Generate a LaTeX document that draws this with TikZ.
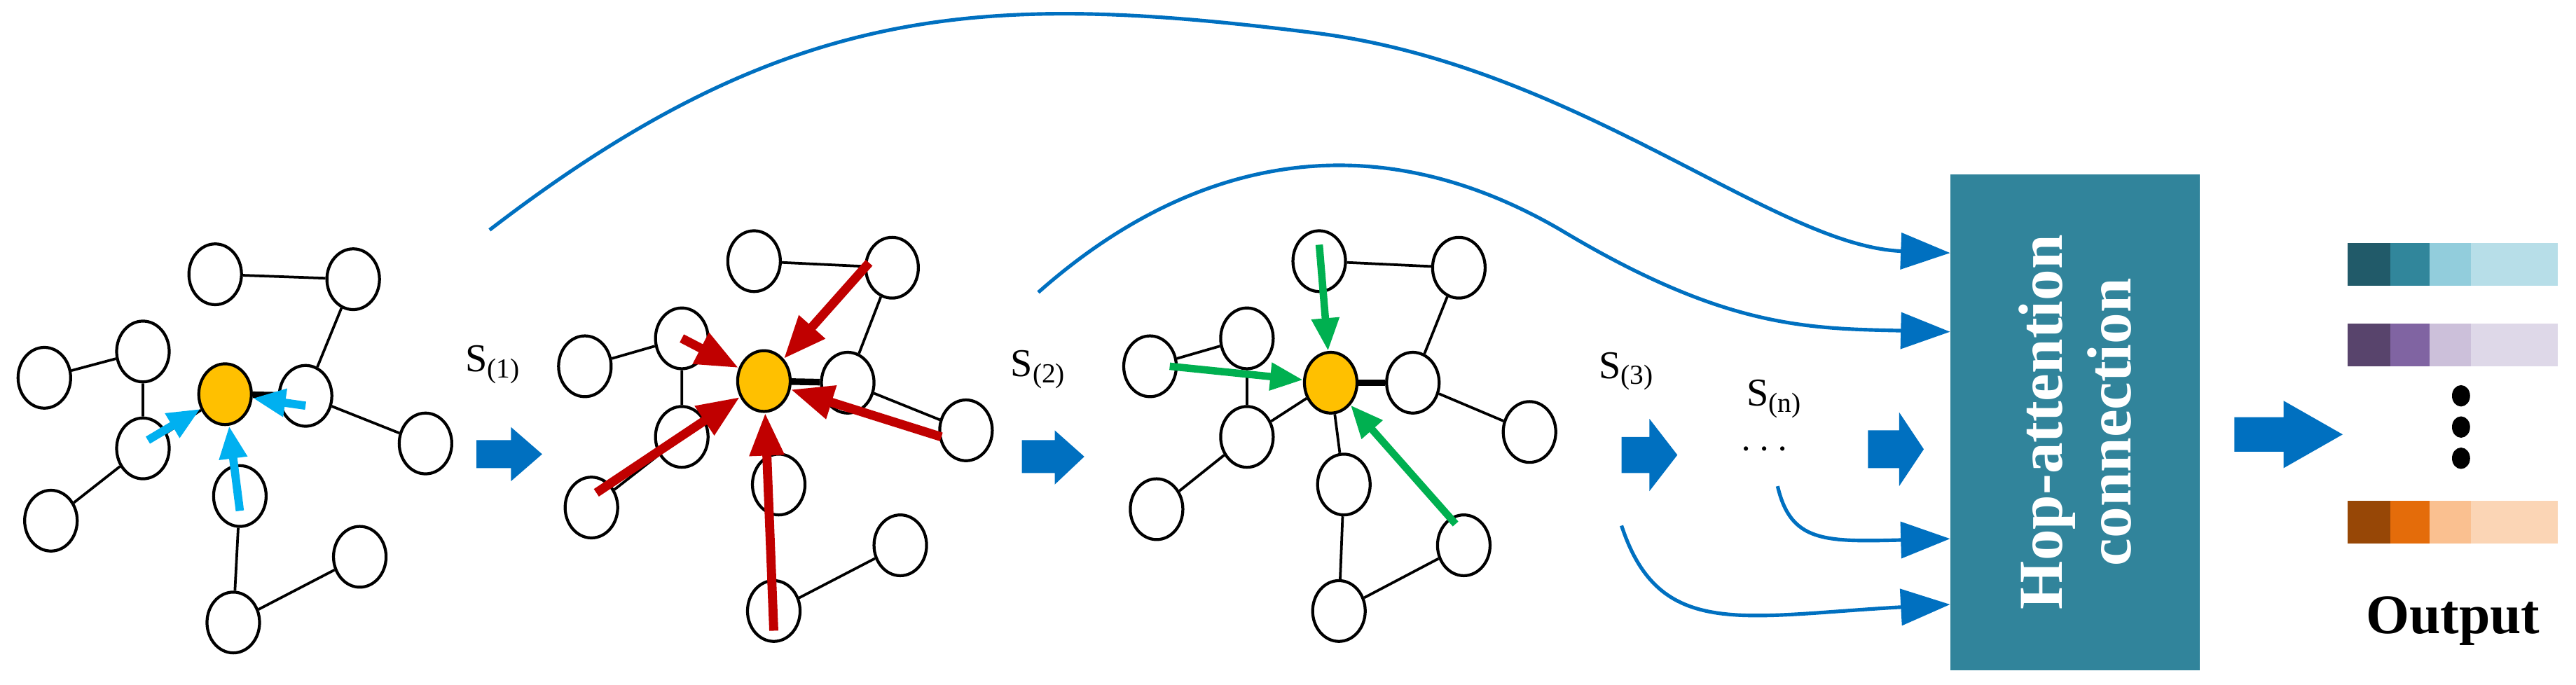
\documentclass[tikz,border=0pt]{standalone}
\usepackage{fontspec}
\setmainfont{Liberation Serif}
\usetikzlibrary{arrows.meta,shapes.geometric}
\definecolor{myblue}{HTML}{0070C0}
\definecolor{cyanA}{HTML}{00B0F0}
\definecolor{redA}{HTML}{C00000}
\definecolor{greenA}{HTML}{00B050}
\definecolor{gold}{HTML}{FFC000}
\definecolor{boxc}{HTML}{31849B}
\definecolor{t1}{HTML}{215A69}\definecolor{t2}{HTML}{31869B}\definecolor{t3}{HTML}{92CDDC}\definecolor{t4}{HTML}{B7DEE8}
\definecolor{v1}{HTML}{58446C}\definecolor{v2}{HTML}{8064A2}\definecolor{v3}{HTML}{CCC0DA}\definecolor{v4}{HTML}{DED8E8}
\definecolor{o1}{HTML}{974706}\definecolor{o2}{HTML}{E46C0A}\definecolor{o3}{HTML}{FAC090}\definecolor{o4}{HTML}{FBD5B5}
\tikzset{
 nd/.style={ellipse,draw=black,fill=white,line width=1.8pt,minimum width=32pt,minimum height=37pt,inner sep=0pt},
 ctr/.style={nd,fill=gold},
 ed/.style={line width=1.6pt},
 cyarr/.style={cyanA,line width=5pt,-{Triangle[length=20pt,width=16pt]}},
 rdarr/.style={redA,line width=5.5pt,-{Triangle[length=26pt,width=20pt]}},
 grarr/.style={greenA,line width=4.5pt,-{Triangle[length=20pt,width=16pt]}},
 curv/.style={myblue,line width=2.2pt,-{Triangle[length=30pt,width=22pt]}},
 blk/.style={fill=myblue,draw=none},
 slab/.style={font=\fontsize{24}{26}\selectfont},
}
\begin{document}
\begin{tikzpicture}[x=1pt,y=-1pt]
\useasboundingbox (0,0) rectangle (1568,417);
% graph 1
\node[nd] (a1) at (131,167) {};
\node[nd] (a2) at (215,170) {};
\node[nd] (a3) at (87,214) {};
\node[nd] (a4) at (27,230) {};
\node[ctr] (ac) at (137,240) {};
\node[nd] (a5) at (186,241) {};
\node[nd] (a6) at (87,273) {};
\node[nd] (a7) at (259,270) {};
\node[nd] (a8) at (31,317) {};
\node[nd] (a9) at (146,302) {};
\node[nd] (a10) at (219,339) {};
\node[nd] (a11) at (142,379) {};
\begin{scope}[on background layer/.style={}]
\end{scope}
\draw[ed] (a1)--(a2) (a2)--(a5) (a3)--(a4) (a3)--(a6) (a6)--(a8) (a6)--(ac) (a5)--(a7) (a9)--(a11) (a11)--(a10);
\draw[line width=4pt] (ac)--(a5);
\draw[cyarr] (a6.center)++(3,-5) -- (ac);
\draw[cyarr] ([yshift=-9pt]a9.center) -- (ac);
\draw[cyarr] ([yshift=-6pt]a5.center) -- (ac);
% graph 2
\node[nd] (b1) at (459,159) {};
\node[nd] (b2) at (543,163) {};
\node[nd] (b3) at (415,206) {};
\node[nd] (b4) at (356,223) {};
\node[ctr] (bc) at (465,232) {};
\node[nd] (b5) at (516,233) {};
\node[nd] (b6) at (415,266) {};
\node[nd] (b7) at (588,262) {};
\node[nd] (b8) at (360,309) {};
\node[nd] (b9) at (474,295) {};
\node[nd] (b10) at (548,332) {};
\node[nd] (b11) at (471,372) {};
\draw[ed] (b1)--(b2) (b2)--(b5) (b3)--(b4) (b3)--(b6) (b6)--(b8) (b5)--(b7) (b11)--(b10);
\draw[line width=4pt] (bc)--(b5);
\draw[rdarr] ([shift={(-14,-3)}]b2.center) -- (bc);
\draw[rdarr] (b3.center) -- (bc);
\draw[rdarr] ([shift={(3,-9)}]b8.center) -- (bc);
\draw[rdarr] ([shift={(-15,4)}]b7.center) -- (bc);
\draw[rdarr] ([yshift=-12pt]b11.center) -- (bc);
% graph 3
\node[nd] (c1) at (803,159) {};
\node[nd] (c2) at (888,163) {};
\node[nd] (c3) at (759,206) {};
\node[nd] (c4) at (700,223) {};
\node[ctr] (cc) at (810,233) {};
\node[nd] (c5) at (860,233) {};
\node[nd] (c6) at (759,266) {};
\node[nd] (c7) at (931,263) {};
\node[nd] (c8) at (704,310) {};
\node[nd] (c9) at (818,295) {};
\node[nd] (c10) at (891,332) {};
\node[nd] (c11) at (815,372) {};
\draw[ed] (c1)--(c2) (c2)--(c5) (c3)--(c4) (c3)--(c6) (c6)--(c8) (c6)--(cc) (cc)--(c9) (c5)--(c7) (c9)--(c11) (c11)--(c10);
\draw[line width=4pt] (cc)--(c5);
\draw[grarr] ([yshift=10pt]c1.center) -- (cc);
\draw[grarr] ([xshift=12pt]c4.center) -- (cc);
\draw[grarr] ([shift={(-5,-13)}]c10.center) -- (cc);
% labels
\node[slab] (s1) at (300,222) {S\textsubscript{(1)}};
\node[slab] (s2) at (632,225) {S\textsubscript{(2)}};
\node[slab] (s3) at (990,226) {S\textsubscript{(3)}};
\node[slab] (sn) at (1080,243) {S\textsubscript{(n)}};
\node[font=\fontsize{40}{40}\selectfont\bfseries] (dots) at (1074,274) {$\cdots$};
% block arrows
\fill[blk] (290,268) -- (311,268) -- (311,260) -- (330,276.5) -- (311,293) -- (311,285) -- (290,285) -- cycle;
\fill[blk] (622,268) -- (642,268) -- (642,262) -- (660,278) -- (642,295) -- (642,288) -- (622,288) -- cycle;
\fill[blk] (987,266) -- (1004,266) -- (1004,255) -- (1021,277) -- (1004,299) -- (1004,288) -- (987,288) -- cycle;
\fill[blk] (1137,262) -- (1156,262) -- (1156,251) -- (1171,273.5) -- (1156,296) -- (1156,285) -- (1137,285) -- cycle;
\fill[blk] (1360,254) -- (1390,254) -- (1390,244) -- (1426,264.5) -- (1390,285) -- (1390,275) -- (1360,275) -- cycle;
% box
\node[fill=boxc,minimum width=152pt,minimum height=302pt,inner sep=0pt] (box) at (1263,257) {};
\node[rotate=90,text=white,font=\fontsize{38}{42}\selectfont\bfseries,align=center] (boxt) at (box) {Hop-attention\\connection};
% curves
\coordinate (e1) at (1187,154);
\coordinate (e2) at (1187,202);
\coordinate (e3) at (1187,328);
\coordinate (e4) at (1187,368);
\draw[curv] (298,140) .. controls (480,0) and (600,-5) .. (800,20) .. controls (960,40) and (1080,150) .. (e1);
\draw[curv] (632,178) .. controls (720,100) and (830,70) .. (950,140) .. controls (1050,200) and (1100,200) .. (e2);
\draw[curv] (1082,296) .. controls (1090,330) and (1110,330) .. (e3);
\draw[curv] (987,320) .. controls (1010,390) and (1060,375) .. (e4);
% output bars
\foreach \y/\a/\b/\c/\d in {148/t1/t2/t3/t4,197/v1/v2/v3/v4,305/o1/o2/o3/o4}{
 \fill[\a] (1429,\y) rectangle (1455,\y+26);
 \fill[\b] (1455,\y) rectangle (1479,\y+26);
 \fill[\c] (1479,\y) rectangle (1504,\y+26);
 \fill[\d] (1504,\y) rectangle (1557,\y+26);
}
\foreach \y in {241,260,279}{\fill[black] (1498,\y) ellipse (5.5 and 6.5);}
\node[font=\fontsize{34}{36}\selectfont\bfseries] (out) at (1493,378) {Output};
\end{tikzpicture}
\end{document}
